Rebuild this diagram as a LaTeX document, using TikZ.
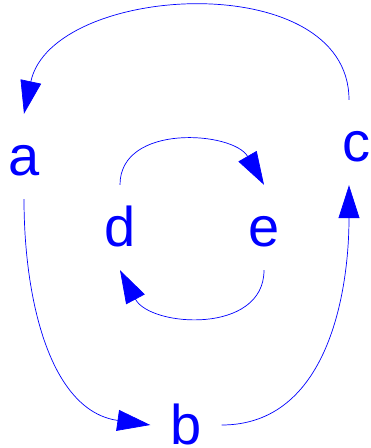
\documentclass[tikz,border=0pt]{standalone}
\usepackage{fontspec}
\setmainfont{Liberation Sans}
\usetikzlibrary{arrows.meta,positioning}

\begin{document}
\begin{tikzpicture}[x=1pt, y=1pt,
    vertex/.style={text=blue, font=\fontsize{56}{56}\selectfont, inner sep=0pt,
        text height=62pt, text depth=23pt, minimum width=71pt, anchor=base},
    edge/.style={blue, line width=0.7pt, -{Triangle[length=33pt,width=21pt]}}]
    \useasboundingbox (0,0) rectangle (371,448);

    % Vertices
    \node[vertex] (a) at (24,272) {a};
    \node[vertex, text height=38pt, text depth=0pt] (b) at (186,4) {b};
    \node[vertex] (c) at (356,286) {c};
    \node[vertex] (d) at (120,201) {d};
    \node[vertex] (e) at (264,201) {e};

    % Outer cycle
    \draw[edge] ([xshift=-7pt]c.north) to[out=90, in=78, looseness=1.05] (a.north);
    \draw[edge] (a.south) to[out=-90, in=172] (b.west);
    \draw[edge] (b.east) to[out=0, in=-90] ([xshift=-7pt]c.south);

    % Inner cycle
    \draw[edge] (d.north) to[out=90, in=120, looseness=1.1] (e.north);
    \draw[edge] (e.south) to[out=-90, in=-62, looseness=1.15] (d.south);
\end{tikzpicture}
\end{document}
